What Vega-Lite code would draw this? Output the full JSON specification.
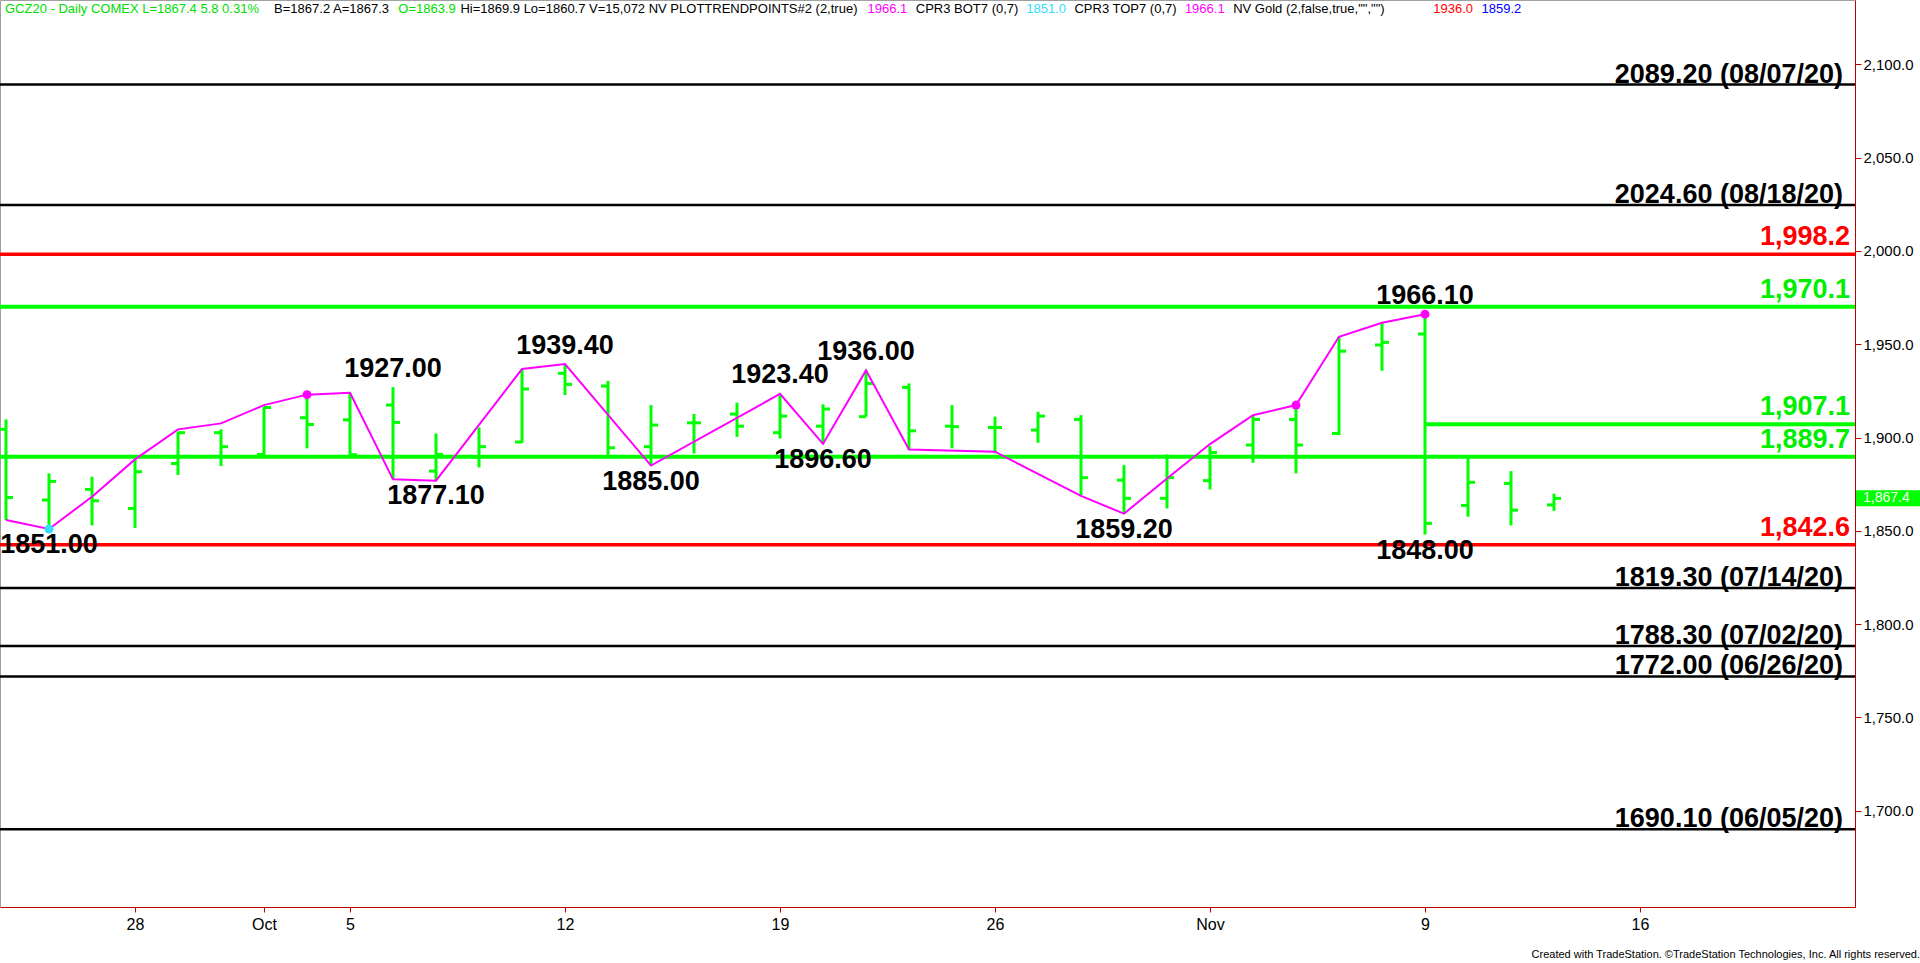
{
  "$schema": "https://vega.github.io/schema/vega-lite/v6.json",
  "width": 1855,
  "height": 907,
  "autosize": {"type": "none"},
  "padding": {"left": 0, "top": 0, "right": 65, "bottom": 56},
  "background": "#FFFFFF",
  "title": {"text": "Created with TradeStation. ©TradeStation Technologies, Inc. All rights reserved.", "orient": "bottom", "anchor": "end", "frame": "bounds", "font": "Liberation Sans", "fontSize": 11, "fontWeight": "normal", "color": "#000000", "offset": 17},
  "config": {
    "view": {"stroke": "#A0A0A0", "strokeWidth": 1},
    "text": {"font": "Liberation Sans"}
  },
  "datasets": {
    "bars": [
      {"date": "2020-09-23", "open": 1904.4, "high": 1909.7, "low": 1855.8, "close": 1867.9},
      {"date": "2020-09-24", "open": 1866.5, "high": 1880.8, "low": 1851.0, "close": 1876.5},
      {"date": "2020-09-25", "open": 1872.2, "high": 1879.0, "low": 1852.9, "close": 1866.1},
      {"date": "2020-09-28", "open": 1862.0, "high": 1888.8, "low": 1851.5, "close": 1881.7},
      {"date": "2020-09-29", "open": 1886.1, "high": 1903.1, "low": 1879.9, "close": 1902.6},
      {"date": "2020-09-30", "open": 1902.6, "high": 1904.4, "low": 1884.7, "close": 1895.1},
      {"date": "2020-10-01", "open": 1890.9, "high": 1916.5, "low": 1890.6, "close": 1916.1},
      {"date": "2020-10-02", "open": 1910.6, "high": 1923.0, "low": 1894.2, "close": 1907.0},
      {"date": "2020-10-05", "open": 1909.5, "high": 1924.0, "low": 1890.4, "close": 1890.8},
      {"date": "2020-10-06", "open": 1917.4, "high": 1927.0, "low": 1877.6, "close": 1908.1},
      {"date": "2020-10-07", "open": 1882.0, "high": 1902.2, "low": 1877.1, "close": 1891.0},
      {"date": "2020-10-08", "open": 1889.5, "high": 1905.4, "low": 1884.0, "close": 1895.1},
      {"date": "2020-10-09", "open": 1897.6, "high": 1936.7, "low": 1897.2, "close": 1926.0},
      {"date": "2020-10-12", "open": 1934.4, "high": 1939.4, "low": 1922.8, "close": 1928.5},
      {"date": "2020-10-13", "open": 1927.6, "high": 1930.4, "low": 1888.8, "close": 1894.5},
      {"date": "2020-10-14", "open": 1895.1, "high": 1917.4, "low": 1885.0, "close": 1906.7},
      {"date": "2020-10-15", "open": 1907.9, "high": 1912.6, "low": 1891.5, "close": 1907.9},
      {"date": "2020-10-16", "open": 1912.6, "high": 1918.7, "low": 1900.4, "close": 1906.1},
      {"date": "2020-10-19", "open": 1902.6, "high": 1923.4, "low": 1899.5, "close": 1911.5},
      {"date": "2020-10-20", "open": 1906.1, "high": 1917.8, "low": 1896.6, "close": 1915.3},
      {"date": "2020-10-21", "open": 1911.2, "high": 1936.0, "low": 1911.2, "close": 1929.0},
      {"date": "2020-10-22", "open": 1926.9, "high": 1929.0, "low": 1893.6, "close": 1903.6},
      {"date": "2020-10-23", "open": 1906.1, "high": 1917.4, "low": 1894.2, "close": 1905.8},
      {"date": "2020-10-26", "open": 1905.4, "high": 1911.2, "low": 1891.5, "close": 1905.4},
      {"date": "2020-10-27", "open": 1904.0, "high": 1913.8, "low": 1897.2, "close": 1911.5},
      {"date": "2020-10-28", "open": 1909.7, "high": 1912.0, "low": 1869.2, "close": 1878.5},
      {"date": "2020-10-29", "open": 1877.2, "high": 1885.2, "low": 1859.2, "close": 1867.4},
      {"date": "2020-10-30", "open": 1867.4, "high": 1891.0, "low": 1862.0, "close": 1878.5},
      {"date": "2020-11-02", "open": 1876.9, "high": 1895.4, "low": 1872.2, "close": 1892.0},
      {"date": "2020-11-03", "open": 1896.0, "high": 1912.0, "low": 1886.5, "close": 1909.7},
      {"date": "2020-11-04", "open": 1909.7, "high": 1917.4, "low": 1880.8, "close": 1896.0},
      {"date": "2020-11-05", "open": 1902.2, "high": 1954.0, "low": 1901.3, "close": 1946.3},
      {"date": "2020-11-06", "open": 1949.6, "high": 1961.5, "low": 1935.8, "close": 1951.0},
      {"date": "2020-11-09", "open": 1955.5, "high": 1966.1, "low": 1848.0, "close": 1854.0},
      {"date": "2020-11-10", "open": 1863.6, "high": 1889.7, "low": 1857.6, "close": 1876.0},
      {"date": "2020-11-11", "open": 1875.4, "high": 1882.0, "low": 1852.9, "close": 1861.1},
      {"date": "2020-11-12", "open": 1863.9, "high": 1869.9, "low": 1860.7, "close": 1867.4}
    ],
    "trend": [
      {"date": "2020-09-23", "price": 1855.8},
      {"date": "2020-09-24", "price": 1851.0},
      {"date": "2020-09-25", "price": 1868.3},
      {"date": "2020-09-28", "price": 1888.3},
      {"date": "2020-09-29", "price": 1904.4},
      {"date": "2020-09-30", "price": 1907.6},
      {"date": "2020-10-01", "price": 1917.4},
      {"date": "2020-10-02", "price": 1923.0},
      {"date": "2020-10-05", "price": 1924.0},
      {"date": "2020-10-06", "price": 1877.6},
      {"date": "2020-10-07", "price": 1876.9},
      {"date": "2020-10-09", "price": 1936.7},
      {"date": "2020-10-12", "price": 1939.4},
      {"date": "2020-10-14", "price": 1885.0},
      {"date": "2020-10-19", "price": 1923.4},
      {"date": "2020-10-20", "price": 1896.6},
      {"date": "2020-10-21", "price": 1936.0},
      {"date": "2020-10-22", "price": 1893.6},
      {"date": "2020-10-26", "price": 1892.4},
      {"date": "2020-10-28", "price": 1868.7},
      {"date": "2020-10-29", "price": 1859.2},
      {"date": "2020-10-30", "price": 1878.1},
      {"date": "2020-11-02", "price": 1896.5},
      {"date": "2020-11-03", "price": 1912.0},
      {"date": "2020-11-04", "price": 1917.4},
      {"date": "2020-11-05", "price": 1954.0},
      {"date": "2020-11-06", "price": 1961.5},
      {"date": "2020-11-09", "price": 1966.1}
    ],
    "pivots": [
      {"date": "2020-09-24", "price": 1851.0, "kind": "low"},
      {"date": "2020-10-02", "price": 1923.0, "kind": "high"},
      {"date": "2020-11-04", "price": 1917.4, "kind": "high"},
      {"date": "2020-11-09", "price": 1966.1, "kind": "high"}
    ],
    "swings": [
      {"date": "2020-09-24", "price": 1851.0, "side": "low"},
      {"date": "2020-10-06", "price": 1927.0, "side": "high"},
      {"date": "2020-10-07", "price": 1877.1, "side": "low"},
      {"date": "2020-10-12", "price": 1939.4, "side": "high"},
      {"date": "2020-10-14", "price": 1885.0, "side": "low"},
      {"date": "2020-10-19", "price": 1923.4, "side": "high"},
      {"date": "2020-10-20", "price": 1896.6, "side": "low"},
      {"date": "2020-10-21", "price": 1936.0, "side": "high"},
      {"date": "2020-10-29", "price": 1859.2, "side": "low"},
      {"date": "2020-11-09", "price": 1966.1, "side": "high"},
      {"date": "2020-11-09", "price": 1848.0, "side": "low"}
    ],
    "levels": [
      {"price": 2089.2, "label": "2089.20 (08/07/20)", "kind": "prior"},
      {"price": 2024.6, "label": "2024.60 (08/18/20)", "kind": "prior"},
      {"price": 1998.2, "label": "1,998.2", "kind": "red"},
      {"price": 1970.1, "label": "1,970.1", "kind": "green"},
      {"price": 1907.1, "label": "1,907.1", "kind": "green", "partial": true},
      {"price": 1889.7, "label": "1,889.7", "kind": "green"},
      {"price": 1842.6, "label": "1,842.6", "kind": "red"},
      {"price": 1819.3, "label": "1819.30 (07/14/20)", "kind": "prior"},
      {"price": 1788.3, "label": "1788.30 (07/02/20)", "kind": "prior"},
      {"price": 1772.0, "label": "1772.00 (06/26/20)", "kind": "prior"},
      {"price": 1690.1, "label": "1690.10 (06/05/20)", "kind": "prior"}
    ],
    "segment": [
      {"date": "2020-11-09", "price": 1907.1},
      {"date": "2020-11-23", "price": 1907.1}
    ],
    "status": [
      {"col": 0, "text": "GCZ20 - Daily COMEX L=1867.4 5.8 0.31%", "kind": "quote"},
      {"col": 39, "text": "B=1867.2 A=1867.3", "kind": "info"},
      {"col": 57, "text": "O=1863.9", "kind": "quote"},
      {"col": 66, "text": "Hi=1869.9 Lo=1860.7 V=15,072 NV PLOTTRENDPOINTS#2 (2,true)", "kind": "info"},
      {"col": 125, "text": "1966.1", "kind": "trend"},
      {"col": 132, "text": "CPR3 BOT7 (0,7)", "kind": "info"},
      {"col": 148, "text": "1851.0", "kind": "bot"},
      {"col": 155, "text": "CPR3 TOP7 (0,7)", "kind": "info"},
      {"col": 171, "text": "1966.1", "kind": "trend"},
      {"col": 178, "text": "NV Gold (2,false,true,\"\",\"\")", "kind": "info"},
      {"col": 207, "text": "1936.0", "kind": "gold1"},
      {"col": 214, "text": "1859.2", "kind": "gold2"}
    ]
  },
  "layer": [
    {
      "layer": [
        {
          "data": {"name": "levels"},
          "transform": [{"filter": "datum.kind == 'prior'"}],
          "mark": {"type": "rule", "color": "#000000", "strokeWidth": 2.5},
          "encoding": {
            "y": {"field": "price", "type": "quantitative", "scale": {"domain": [1648.4, 2134.5], "nice": false, "zero": false}, "title": null}
          }
        },
        {
          "data": {"name": "levels"},
          "transform": [{"filter": "datum.kind == 'red'"}],
          "mark": {"type": "rule", "color": "#FF0000", "strokeWidth": 3.5},
          "encoding": {
            "y": {"field": "price", "type": "quantitative", "scale": {"domain": [1648.4, 2134.5], "nice": false, "zero": false}, "title": null}
          }
        },
        {
          "data": {"name": "levels"},
          "transform": [{"filter": "datum.kind == 'green' && !datum.partial"}],
          "mark": {"type": "rule", "color": "#00FF00", "strokeWidth": 4},
          "encoding": {
            "y": {"field": "price", "type": "quantitative", "scale": {"domain": [1648.4, 2134.5], "nice": false, "zero": false}, "title": null}
          }
        },
        {
          "data": {"name": "segment"},
          "mark": {"type": "line", "color": "#00FF00", "strokeWidth": 4},
          "encoding": {
            "x": {"field": "date", "type": "ordinal", "scale": {"type": "point", "domain": ["2020-09-23","2020-09-24","2020-09-25","2020-09-28","2020-09-29","2020-09-30","2020-10-01","2020-10-02","2020-10-05","2020-10-06","2020-10-07","2020-10-08","2020-10-09","2020-10-12","2020-10-13","2020-10-14","2020-10-15","2020-10-16","2020-10-19","2020-10-20","2020-10-21","2020-10-22","2020-10-23","2020-10-26","2020-10-27","2020-10-28","2020-10-29","2020-10-30","2020-11-02","2020-11-03","2020-11-04","2020-11-05","2020-11-06","2020-11-09","2020-11-10","2020-11-11","2020-11-12","2020-11-13","2020-11-16","2020-11-17","2020-11-18","2020-11-19","2020-11-20","2020-11-23"], "padding": 0.0698, "align": 1}, "title": null},
            "y": {"field": "price", "type": "quantitative", "scale": {"domain": [1648.4, 2134.5], "nice": false, "zero": false}, "title": null}
          }
        },
        {
          "data": {"name": "bars"},
          "mark": {"type": "rule", "color": "#00FF00", "strokeWidth": 3},
          "encoding": {
            "x": {"field": "date", "type": "ordinal", "scale": {"type": "point", "domain": ["2020-09-23","2020-09-24","2020-09-25","2020-09-28","2020-09-29","2020-09-30","2020-10-01","2020-10-02","2020-10-05","2020-10-06","2020-10-07","2020-10-08","2020-10-09","2020-10-12","2020-10-13","2020-10-14","2020-10-15","2020-10-16","2020-10-19","2020-10-20","2020-10-21","2020-10-22","2020-10-23","2020-10-26","2020-10-27","2020-10-28","2020-10-29","2020-10-30","2020-11-02","2020-11-03","2020-11-04","2020-11-05","2020-11-06","2020-11-09","2020-11-10","2020-11-11","2020-11-12","2020-11-13","2020-11-16","2020-11-17","2020-11-18","2020-11-19","2020-11-20","2020-11-23"], "padding": 0.0698, "align": 1},
              "title": null,
              "axis": {
                "values": ["2020-09-28","2020-10-01","2020-10-05","2020-10-12","2020-10-19","2020-10-26","2020-11-02","2020-11-09","2020-11-16"],
                "labelExpr": "datum.value == '2020-10-01' ? 'Oct' : datum.value == '2020-11-02' ? 'Nov' : '' + toNumber(substring(datum.value, 8, 10))",
                "labelAngle": 0, "labelOverlap": false, "labelAlign": "center", "labelBaseline": "top",
                "domainColor": "#C00000", "tickColor": "#C00000", "tickSize": 5, "domainWidth": 1,
                "labelFont": "Liberation Sans", "labelFontSize": 16, "labelColor": "#000000", "labelPadding": 4,
                "grid": false
              }
            },
            "y": {"field": "low", "type": "quantitative", "scale": {"domain": [1648.4, 2134.5], "nice": false, "zero": false},
              "title": null,
              "axis": {
                "orient": "right", "values": [1700, 1750, 1800, 1850, 1900, 1950, 2000, 2050, 2100], "format": ",.1f",
                "domainColor": "#C00000", "tickColor": "#C00000", "tickSize": 6, "domainWidth": 1,
                "labelFont": "Liberation Sans", "labelFontSize": 15, "labelColor": "#000000", "labelPadding": 2,
                "grid": false
              }
            },
            "y2": {"field": "high"}
          }
        },
        {
          "data": {"name": "bars"},
          "mark": {"type": "tick", "orient": "horizontal", "color": "#00FF00", "size": 7, "thickness": 3, "xOffset": -3.5, "opacity": 1},
          "encoding": {
            "x": {"field": "date", "type": "ordinal", "scale": {"type": "point", "domain": ["2020-09-23","2020-09-24","2020-09-25","2020-09-28","2020-09-29","2020-09-30","2020-10-01","2020-10-02","2020-10-05","2020-10-06","2020-10-07","2020-10-08","2020-10-09","2020-10-12","2020-10-13","2020-10-14","2020-10-15","2020-10-16","2020-10-19","2020-10-20","2020-10-21","2020-10-22","2020-10-23","2020-10-26","2020-10-27","2020-10-28","2020-10-29","2020-10-30","2020-11-02","2020-11-03","2020-11-04","2020-11-05","2020-11-06","2020-11-09","2020-11-10","2020-11-11","2020-11-12","2020-11-13","2020-11-16","2020-11-17","2020-11-18","2020-11-19","2020-11-20","2020-11-23"], "padding": 0.0698, "align": 1}, "title": null},
            "y": {"field": "open", "type": "quantitative", "scale": {"domain": [1648.4, 2134.5], "nice": false, "zero": false}, "title": null}
          }
        },
        {
          "data": {"name": "bars"},
          "mark": {"type": "tick", "orient": "horizontal", "color": "#00FF00", "size": 7, "thickness": 3, "xOffset": 3.5, "opacity": 1},
          "encoding": {
            "x": {"field": "date", "type": "ordinal", "scale": {"type": "point", "domain": ["2020-09-23","2020-09-24","2020-09-25","2020-09-28","2020-09-29","2020-09-30","2020-10-01","2020-10-02","2020-10-05","2020-10-06","2020-10-07","2020-10-08","2020-10-09","2020-10-12","2020-10-13","2020-10-14","2020-10-15","2020-10-16","2020-10-19","2020-10-20","2020-10-21","2020-10-22","2020-10-23","2020-10-26","2020-10-27","2020-10-28","2020-10-29","2020-10-30","2020-11-02","2020-11-03","2020-11-04","2020-11-05","2020-11-06","2020-11-09","2020-11-10","2020-11-11","2020-11-12","2020-11-13","2020-11-16","2020-11-17","2020-11-18","2020-11-19","2020-11-20","2020-11-23"], "padding": 0.0698, "align": 1}, "title": null},
            "y": {"field": "close", "type": "quantitative", "scale": {"domain": [1648.4, 2134.5], "nice": false, "zero": false}, "title": null}
          }
        },
        {
          "data": {"name": "trend"},
          "mark": {"type": "line", "color": "#FF00FF", "strokeWidth": 2},
          "encoding": {
            "x": {"field": "date", "type": "ordinal", "scale": {"type": "point", "domain": ["2020-09-23","2020-09-24","2020-09-25","2020-09-28","2020-09-29","2020-09-30","2020-10-01","2020-10-02","2020-10-05","2020-10-06","2020-10-07","2020-10-08","2020-10-09","2020-10-12","2020-10-13","2020-10-14","2020-10-15","2020-10-16","2020-10-19","2020-10-20","2020-10-21","2020-10-22","2020-10-23","2020-10-26","2020-10-27","2020-10-28","2020-10-29","2020-10-30","2020-11-02","2020-11-03","2020-11-04","2020-11-05","2020-11-06","2020-11-09","2020-11-10","2020-11-11","2020-11-12","2020-11-13","2020-11-16","2020-11-17","2020-11-18","2020-11-19","2020-11-20","2020-11-23"], "padding": 0.0698, "align": 1}, "title": null},
            "y": {"field": "price", "type": "quantitative", "scale": {"domain": [1648.4, 2134.5], "nice": false, "zero": false}, "title": null}
          }
        },
        {
          "data": {"name": "pivots"},
          "mark": {"type": "point", "filled": true, "size": 80, "opacity": 1, "strokeWidth": 0},
          "encoding": {
            "x": {"field": "date", "type": "ordinal", "scale": {"type": "point", "domain": ["2020-09-23","2020-09-24","2020-09-25","2020-09-28","2020-09-29","2020-09-30","2020-10-01","2020-10-02","2020-10-05","2020-10-06","2020-10-07","2020-10-08","2020-10-09","2020-10-12","2020-10-13","2020-10-14","2020-10-15","2020-10-16","2020-10-19","2020-10-20","2020-10-21","2020-10-22","2020-10-23","2020-10-26","2020-10-27","2020-10-28","2020-10-29","2020-10-30","2020-11-02","2020-11-03","2020-11-04","2020-11-05","2020-11-06","2020-11-09","2020-11-10","2020-11-11","2020-11-12","2020-11-13","2020-11-16","2020-11-17","2020-11-18","2020-11-19","2020-11-20","2020-11-23"], "padding": 0.0698, "align": 1}, "title": null},
            "y": {"field": "price", "type": "quantitative", "scale": {"domain": [1648.4, 2134.5], "nice": false, "zero": false}, "title": null},
            "color": {"field": "kind", "type": "nominal", "scale": {"domain": ["high", "low"], "range": ["#FF00FF", "#33DDFF"]}, "legend": null}
          }
        },
        {
          "data": {"name": "swings"},
          "transform": [{"filter": "datum.side == 'high'"}],
          "mark": {"type": "text", "font": "Liberation Sans", "fontWeight": "bold", "fontSize": 27, "align": "center", "baseline": "middle", "dy": -18.5, "color": "#000000"},
          "encoding": {
            "x": {"field": "date", "type": "ordinal", "scale": {"type": "point", "domain": ["2020-09-23","2020-09-24","2020-09-25","2020-09-28","2020-09-29","2020-09-30","2020-10-01","2020-10-02","2020-10-05","2020-10-06","2020-10-07","2020-10-08","2020-10-09","2020-10-12","2020-10-13","2020-10-14","2020-10-15","2020-10-16","2020-10-19","2020-10-20","2020-10-21","2020-10-22","2020-10-23","2020-10-26","2020-10-27","2020-10-28","2020-10-29","2020-10-30","2020-11-02","2020-11-03","2020-11-04","2020-11-05","2020-11-06","2020-11-09","2020-11-10","2020-11-11","2020-11-12","2020-11-13","2020-11-16","2020-11-17","2020-11-18","2020-11-19","2020-11-20","2020-11-23"], "padding": 0.0698, "align": 1}, "title": null},
            "y": {"field": "price", "type": "quantitative", "scale": {"domain": [1648.4, 2134.5], "nice": false, "zero": false}, "title": null},
            "text": {"field": "price", "type": "quantitative", "format": ".2f"}
          }
        },
        {
          "data": {"name": "swings"},
          "transform": [{"filter": "datum.side == 'low'"}],
          "mark": {"type": "text", "font": "Liberation Sans", "fontWeight": "bold", "fontSize": 27, "align": "center", "baseline": "middle", "dy": 16, "color": "#000000"},
          "encoding": {
            "x": {"field": "date", "type": "ordinal", "scale": {"type": "point", "domain": ["2020-09-23","2020-09-24","2020-09-25","2020-09-28","2020-09-29","2020-09-30","2020-10-01","2020-10-02","2020-10-05","2020-10-06","2020-10-07","2020-10-08","2020-10-09","2020-10-12","2020-10-13","2020-10-14","2020-10-15","2020-10-16","2020-10-19","2020-10-20","2020-10-21","2020-10-22","2020-10-23","2020-10-26","2020-10-27","2020-10-28","2020-10-29","2020-10-30","2020-11-02","2020-11-03","2020-11-04","2020-11-05","2020-11-06","2020-11-09","2020-11-10","2020-11-11","2020-11-12","2020-11-13","2020-11-16","2020-11-17","2020-11-18","2020-11-19","2020-11-20","2020-11-23"], "padding": 0.0698, "align": 1}, "title": null},
            "y": {"field": "price", "type": "quantitative", "scale": {"domain": [1648.4, 2134.5], "nice": false, "zero": false}, "title": null},
            "text": {"field": "price", "type": "quantitative", "format": ".2f"}
          }
        },
        {
          "data": {"name": "levels"},
          "transform": [{"filter": "datum.kind == 'prior'"}],
          "mark": {"type": "text", "font": "Liberation Sans", "fontWeight": "bold", "fontSize": 27, "align": "right", "baseline": "alphabetic", "dx": -12, "dy": -2, "color": "#000000"},
          "encoding": {
            "x": {"datum": "2020-11-23", "type": "ordinal", "scale": {"type": "point", "domain": ["2020-09-23","2020-09-24","2020-09-25","2020-09-28","2020-09-29","2020-09-30","2020-10-01","2020-10-02","2020-10-05","2020-10-06","2020-10-07","2020-10-08","2020-10-09","2020-10-12","2020-10-13","2020-10-14","2020-10-15","2020-10-16","2020-10-19","2020-10-20","2020-10-21","2020-10-22","2020-10-23","2020-10-26","2020-10-27","2020-10-28","2020-10-29","2020-10-30","2020-11-02","2020-11-03","2020-11-04","2020-11-05","2020-11-06","2020-11-09","2020-11-10","2020-11-11","2020-11-12","2020-11-13","2020-11-16","2020-11-17","2020-11-18","2020-11-19","2020-11-20","2020-11-23"], "padding": 0.0698, "align": 1}, "title": null},
            "y": {"field": "price", "type": "quantitative", "scale": {"domain": [1648.4, 2134.5], "nice": false, "zero": false}, "title": null},
            "text": {"field": "label"}
          }
        },
        {
          "data": {"name": "levels"},
          "transform": [{"filter": "datum.kind == 'red'"}],
          "mark": {"type": "text", "font": "Liberation Sans", "fontWeight": "bold", "fontSize": 27, "align": "right", "baseline": "alphabetic", "dx": -5, "dy": -9, "color": "#FF0000"},
          "encoding": {
            "x": {"datum": "2020-11-23", "type": "ordinal", "scale": {"type": "point", "domain": ["2020-09-23","2020-09-24","2020-09-25","2020-09-28","2020-09-29","2020-09-30","2020-10-01","2020-10-02","2020-10-05","2020-10-06","2020-10-07","2020-10-08","2020-10-09","2020-10-12","2020-10-13","2020-10-14","2020-10-15","2020-10-16","2020-10-19","2020-10-20","2020-10-21","2020-10-22","2020-10-23","2020-10-26","2020-10-27","2020-10-28","2020-10-29","2020-10-30","2020-11-02","2020-11-03","2020-11-04","2020-11-05","2020-11-06","2020-11-09","2020-11-10","2020-11-11","2020-11-12","2020-11-13","2020-11-16","2020-11-17","2020-11-18","2020-11-19","2020-11-20","2020-11-23"], "padding": 0.0698, "align": 1}, "title": null},
            "y": {"field": "price", "type": "quantitative", "scale": {"domain": [1648.4, 2134.5], "nice": false, "zero": false}, "title": null},
            "text": {"field": "label"}
          }
        },
        {
          "data": {"name": "levels"},
          "transform": [{"filter": "datum.kind == 'green'"}],
          "mark": {"type": "text", "font": "Liberation Sans", "fontWeight": "bold", "fontSize": 27, "align": "right", "baseline": "alphabetic", "dx": -5, "dy": -9, "color": "#00EE00"},
          "encoding": {
            "x": {"datum": "2020-11-23", "type": "ordinal", "scale": {"type": "point", "domain": ["2020-09-23","2020-09-24","2020-09-25","2020-09-28","2020-09-29","2020-09-30","2020-10-01","2020-10-02","2020-10-05","2020-10-06","2020-10-07","2020-10-08","2020-10-09","2020-10-12","2020-10-13","2020-10-14","2020-10-15","2020-10-16","2020-10-19","2020-10-20","2020-10-21","2020-10-22","2020-10-23","2020-10-26","2020-10-27","2020-10-28","2020-10-29","2020-10-30","2020-11-02","2020-11-03","2020-11-04","2020-11-05","2020-11-06","2020-11-09","2020-11-10","2020-11-11","2020-11-12","2020-11-13","2020-11-16","2020-11-17","2020-11-18","2020-11-19","2020-11-20","2020-11-23"], "padding": 0.0698, "align": 1}, "title": null},
            "y": {"field": "price", "type": "quantitative", "scale": {"domain": [1648.4, 2134.5], "nice": false, "zero": false}, "title": null},
            "text": {"field": "label"}
          }
        },
        {
          "data": {"name": "bars"},
          "transform": [{"filter": "datum.date == '2020-11-12'"}],
          "mark": {"type": "point", "shape": "M0,-0.25H2V0.25H0Z", "size": 4096, "filled": true, "color": "#00FF00", "opacity": 1, "strokeWidth": 0, "xOffset": 1},
          "encoding": {
            "x": {"datum": "2020-11-23", "type": "ordinal", "scale": {"type": "point", "domain": ["2020-09-23","2020-09-24","2020-09-25","2020-09-28","2020-09-29","2020-09-30","2020-10-01","2020-10-02","2020-10-05","2020-10-06","2020-10-07","2020-10-08","2020-10-09","2020-10-12","2020-10-13","2020-10-14","2020-10-15","2020-10-16","2020-10-19","2020-10-20","2020-10-21","2020-10-22","2020-10-23","2020-10-26","2020-10-27","2020-10-28","2020-10-29","2020-10-30","2020-11-02","2020-11-03","2020-11-04","2020-11-05","2020-11-06","2020-11-09","2020-11-10","2020-11-11","2020-11-12","2020-11-13","2020-11-16","2020-11-17","2020-11-18","2020-11-19","2020-11-20","2020-11-23"], "padding": 0.0698, "align": 1}, "title": null},
            "y": {"field": "close", "type": "quantitative", "scale": {"domain": [1648.4, 2134.5], "nice": false, "zero": false}, "title": null}
          }
        },
        {
          "data": {"name": "bars"},
          "transform": [{"filter": "datum.date == '2020-11-12'"}],
          "mark": {"type": "text", "font": "Liberation Sans", "fontSize": 14, "align": "left", "baseline": "middle", "dx": 8, "color": "#FFFFFF"},
          "encoding": {
            "x": {"datum": "2020-11-23", "type": "ordinal", "scale": {"type": "point", "domain": ["2020-09-23","2020-09-24","2020-09-25","2020-09-28","2020-09-29","2020-09-30","2020-10-01","2020-10-02","2020-10-05","2020-10-06","2020-10-07","2020-10-08","2020-10-09","2020-10-12","2020-10-13","2020-10-14","2020-10-15","2020-10-16","2020-10-19","2020-10-20","2020-10-21","2020-10-22","2020-10-23","2020-10-26","2020-10-27","2020-10-28","2020-10-29","2020-10-30","2020-11-02","2020-11-03","2020-11-04","2020-11-05","2020-11-06","2020-11-09","2020-11-10","2020-11-11","2020-11-12","2020-11-13","2020-11-16","2020-11-17","2020-11-18","2020-11-19","2020-11-20","2020-11-23"], "padding": 0.0698, "align": 1}, "title": null},
            "y": {"field": "close", "type": "quantitative", "scale": {"domain": [1648.4, 2134.5], "nice": false, "zero": false}, "title": null},
            "text": {"field": "close", "type": "quantitative", "format": ",.1f"}
          }
        }
      ]
    },
    {
      "data": {"name": "status"},
      "mark": {"type": "text", "font": "Liberation Sans", "fontSize": 13, "align": "left", "baseline": "top", "dy": 3},
      "encoding": {
        "x": {"field": "col", "type": "quantitative", "scale": {"domain": [-0.725, 268.12], "nice": false, "zero": false}, "axis": null},
        "y": {"datum": 2134.5, "type": "quantitative", "scale": {"domain": [1648.4, 2134.5], "nice": false, "zero": false}, "title": null},
        "text": {"field": "text"},
        "color": {"field": "kind", "type": "nominal", "scale": {"domain": ["quote", "info", "trend", "bot", "gold1", "gold2"], "range": ["#00DD00", "#000000", "#FF00FF", "#33DDFF", "#FF0000", "#0000FF"]}, "legend": null}
      }
    }
  ],
  "resolve": {"scale": {"x": "independent", "color": "independent"}}
}
